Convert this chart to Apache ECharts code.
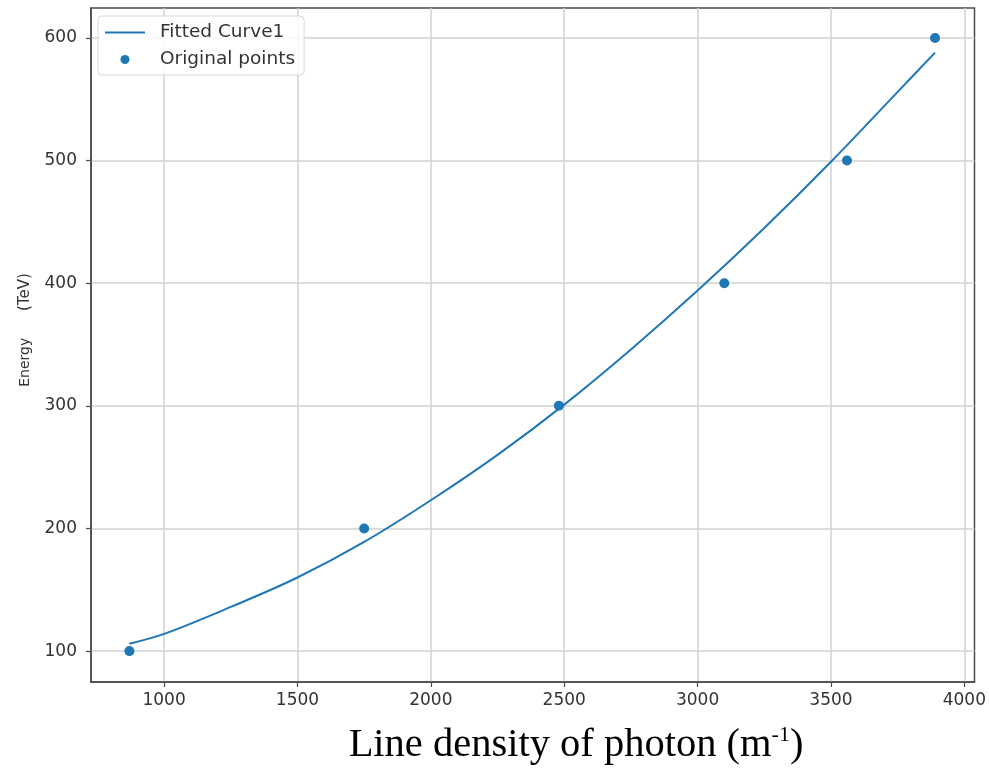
<!DOCTYPE html>
<html>
<head>
<meta charset="utf-8">
<title>Energy vs line density of photon</title>
<script src="https://cdn.jsdelivr.net/npm/echarts@6/dist/echarts.min.js"></script>
<style>
  html, body { margin: 0; padding: 0; background: #ffffff; }
  #chart { width: 989px; height: 768px; }
</style>
</head>
<body>
<div id="chart"></div>
<script>
// Measured points: photon line density (m^-1) and energy (TeV)
const pointX = [870, 1750, 2480, 3100, 3560, 3890];
const pointY = [100, 200, 300, 400, 500, 600];

// Fitted curve, sampled along x
const fitX = [870, 1000, 1250, 1500, 1750, 2000, 2250, 2500, 2750, 3000, 3250, 3500, 3750, 3890];
const fitY = [106, 114, 136, 160, 189, 223, 260, 301, 346, 394, 445, 499, 556, 588];

// Axis ticks
const xTicks = [1000, 1500, 2000, 2500, 3000, 3500, 4000];
const yTicks = [100, 200, 300, 400, 500, 600];

const BLUE = '#1f77b4';
const AXIS = '#4a4a4a';
const GRIDLINE = '#d2d2d2';
const TICKFONT = 'DejaVu Sans';

// Plain line swatch for the curve's legend entry
const LINE_ICON = 'path://M0,0 L40,0 L40,2 L0,2 Z';

const chart = echarts.init(document.getElementById('chart'), null, { renderer: 'canvas' });

chart.setOption({
  animation: false,
  backgroundColor: '#ffffff',
  grid: {
    left: 91, right: 14, top: 8, bottom: 86,
    show: true, borderColor: AXIS, borderWidth: 1.5, backgroundColor: 'transparent'
  },
  legend: {
    left: 98, top: 16,
    orient: 'vertical',
    padding: [7, 9, 6, 7],
    itemWidth: 40, itemHeight: 9, itemGap: 8,
    borderColor: '#d8d8d8', borderWidth: 1, borderRadius: 4,
    backgroundColor: 'rgba(255,255,255,0.85)',
    textStyle: { fontSize: 18.5, fontFamily: TICKFONT, color: '#333', padding: [0, 0, 0, 10] },
    data: [
      { name: 'Fitted Curve1', icon: LINE_ICON, itemStyle: { color: BLUE } },
      { name: 'Original points', icon: 'circle' }
    ]
  },
  xAxis: {
    type: 'value',
    min: 726, max: 4038,
    axisLine: { show: true, lineStyle: { color: AXIS, width: 1.5 } },
    axisTick: { show: true, customValues: xTicks, length: 5, lineStyle: { color: AXIS, width: 1.2 } },
    axisLabel: {
      customValues: xTicks, margin: 10, fontSize: 17, fontFamily: TICKFONT, color: '#333',
      formatter: (v) => String(v)
    },
    splitLine: { show: true, lineStyle: { color: GRIDLINE, width: 1.5 } }
  },
  yAxis: {
    type: 'value',
    min: 74.8, max: 624.4,
    axisLine: { show: true, lineStyle: { color: AXIS, width: 1.5 } },
    axisTick: { show: true, customValues: yTicks, length: 5, lineStyle: { color: AXIS, width: 1.2 } },
    axisLabel: {
      customValues: yTicks, margin: 14, fontSize: 17, fontFamily: TICKFONT, color: '#333',
      formatter: (v) => String(v)
    },
    splitLine: { show: true, lineStyle: { color: GRIDLINE, width: 1.5 } }
  },
  series: [
    {
      name: 'Fitted Curve1',
      type: 'line',
      data: fitX.map((x, i) => [x, fitY[i]]),
      smooth: 0.35,
      symbol: 'none',
      lineStyle: { color: BLUE, width: 2 },
      itemStyle: { color: BLUE }
    },
    {
      name: 'Original points',
      type: 'scatter',
      data: pointX.map((x, i) => [x, pointY[i]]),
      symbol: 'circle',
      symbolSize: 10,
      itemStyle: { color: BLUE, opacity: 1 }
    }
  ],
  graphic: [
    {
      type: 'text',
      x: 25, y: 330,
      rotation: Math.PI / 2,
      style: {
        text: '{e|Energy}      {u|(TeV)}',
        align: 'center',
        verticalAlign: 'middle',
        rich: {
          e: { fontFamily: TICKFONT, fontSize: 14, fill: '#333' },
          u: { fontFamily: TICKFONT, fontSize: 15, fill: '#333' }
        },
        font: '14px "DejaVu Sans"',
        fill: '#333'
      }
    },
    {
      type: 'text',
      x: 576, y: 745,
      style: {
        text: '{b|Line density of photon (m}{s|-1}{b|)}',
        align: 'center',
        verticalAlign: 'middle',
        rich: {
          b: { fontFamily: 'Liberation Serif', fontSize: 40.5, fill: '#000', verticalAlign: 'bottom' },
          s: { fontFamily: 'Liberation Serif', fontSize: 22, fill: '#000', verticalAlign: 'top' }
        }
      }
    }
  ]
});
</script>
</body>
</html>
